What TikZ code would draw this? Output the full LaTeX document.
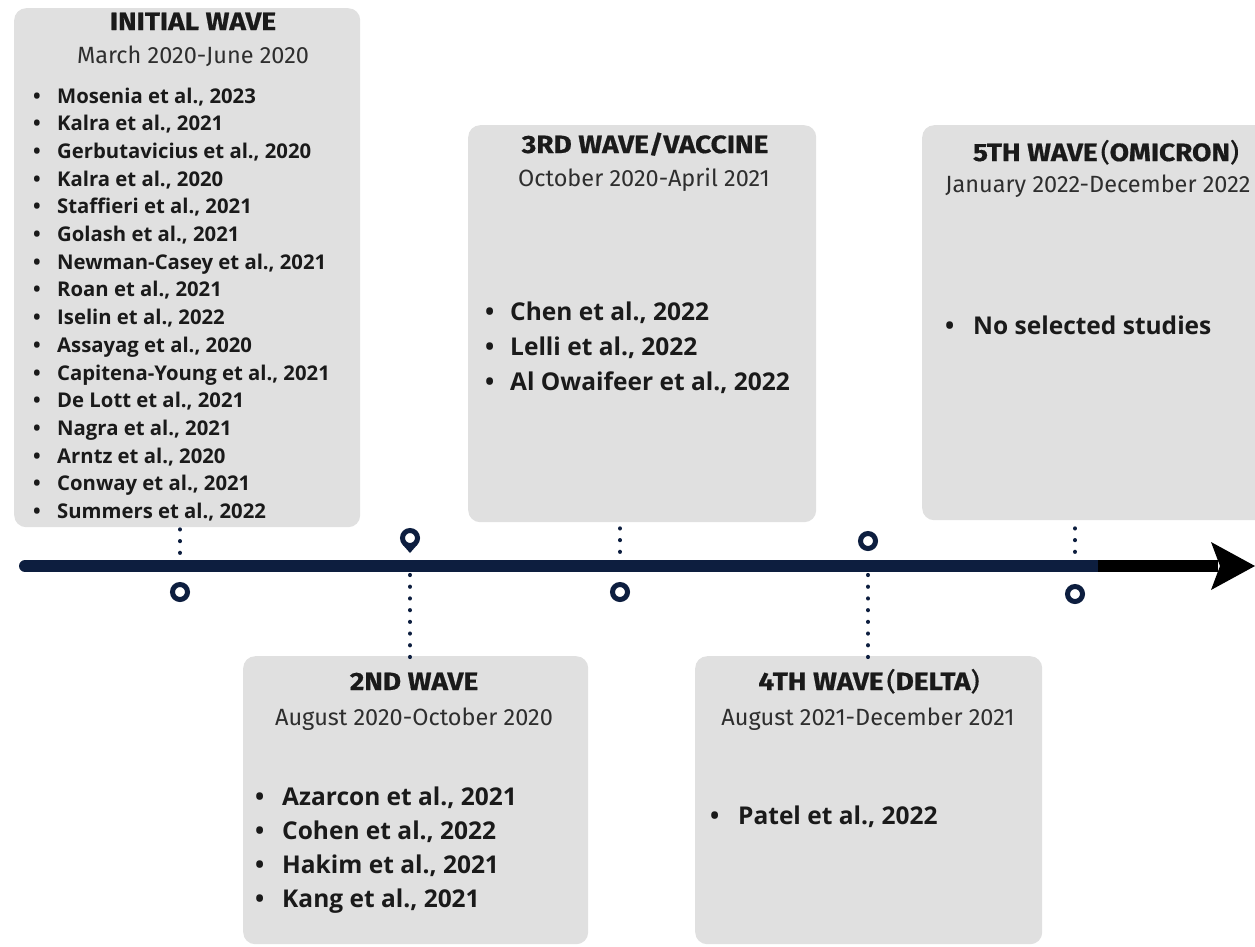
\documentclass[tikz,border=0pt]{standalone}
\usepackage{fontspec}
\setmainfont{Open Sans}
\newfontfamily\headfont[FakeStretch=1.12,FakeBold=0.6]{Fira Sans}
\newfontfamily\datefont{Fira Sans}
\usetikzlibrary{calc}
\definecolor{navy}{HTML}{0D1E3F}
\definecolor{boxgray}{HTML}{E0E0E0}
\definecolor{ink}{HTML}{1A1A1A}
\definecolor{dateink}{HTML}{2E2E2E}
\begin{document}
\begin{tikzpicture}[x=1pt,y=-1pt,
  wavebox/.style={fill=boxgray, draw=none, rounded corners=12pt, rectangle, inner sep=0, anchor=north west},
  headtxt/.style={font=\headfont\bfseries\fontsize{25}{29}\selectfont, text=ink, inner sep=0, anchor=base},
  datetxt/.style={font=\datefont\fontsize{23.5}{27}\selectfont, text=dateink, inner sep=0, anchor=base},
  smallitem/.style={font=\bfseries\fontsize{20.3}{24}\selectfont, text=ink, inner sep=0, anchor=base west},
  bigitem/.style={font=\bfseries\fontsize{24.5}{28}\selectfont, text=ink, inner sep=0, anchor=base west},
  ring/.style={circle, draw=navy, line width=5pt, minimum size=15pt, inner sep=0},
  dotline/.style={navy, line width=4.2pt, line cap=round, dash pattern=on 0.01pt off 11.7pt},
]
\clip (0,0) rectangle (1255,946);
\fill[white] (0,0) rectangle (1255,946);

% boxes
\node[wavebox, minimum width=346pt, minimum height=519pt] (b1) at (14,8) {};
\node[wavebox, minimum width=348pt, minimum height=397pt] (b3) at (468,125) {};
\node[wavebox, minimum width=360pt, minimum height=395pt] (b5) at (922,125) {};
\node[wavebox, minimum width=345pt, minimum height=288pt] (b2) at (243,656) {};
\node[wavebox, minimum width=347pt, minimum height=288pt] (b4) at (695,656) {};

% headings
\node[headtxt] (h1) at (193,30) {INITIAL WAVE};
\node[datetxt] (d1) at (193,63) {March 2020-June 2020};
\node[headtxt] (h3) at (645,153) {3RD WAVE/VACCINE};
\node[datetxt] (d3) at (644,186) {October 2020-April 2021};
\node[headtxt] (h5) at (1106,161) {5TH WAVE\hspace{3pt}{\mdseries(}OMICRON{\mdseries)}};
\node[datetxt] (d5) at (1098,192) {January 2022-December 2022};
\node[headtxt] (h2) at (414,690) {2ND WAVE};
\node[datetxt] (d2) at (414,725) {August 2020-October 2020};
\node[headtxt] (h4) at (869,690) {4TH WAVE\hspace{3pt}{\mdseries(}DELTA{\mdseries)}};
\node[datetxt] (d4) at (868,725) {August 2021-December 2021};

% lists
\foreach \t [count=\i] in {{Mosenia et al., 2023},{Kalra et al., 2021},{Gerbutavicius et al., 2020},{Kalra et al., 2020},{Staffieri et al., 2021},{Golash et al., 2021},{Newman-Casey et al., 2021},{Roan et al., 2021},{Iselin et al., 2022},{Assayag et al., 2020},{Capitena-Young et al., 2021},{De Lott et al., 2021},{Nagra et al., 2021},{Arntz et al., 2020},{Conway et al., 2021},{Summers et al., 2022}}
  \node[smallitem] (l1-\i) at (33,{103+27.7*(\i-1)}) {\makebox[24pt][l]{\textbullet}\t};
\foreach \t [count=\i] in {{Chen et al., 2022},{Lelli et al., 2022},{Al Owaifeer et al., 2022}}
  \node[bigitem] (l3-\i) at (485,{320+35*(\i-1)}) {\makebox[25pt][l]{\textbullet}\t};
\node[bigitem] (l5-1) at (945,334) {\makebox[28pt][l]{\textbullet}No selected studies};
\foreach \t [count=\i] in {{Azarcon et al., 2021},{Cohen et al., 2022},{Hakim et al., 2021},{Kang et al., 2021}}
  \node[bigitem] (l2-\i) at (255,{805+34*(\i-1)}) {\makebox[27pt][l]{\textbullet}\t};
\node[bigitem] (l4-1) at (710,824) {\makebox[28pt][l]{\textbullet}Patel et al., 2022};

% axis
\coordinate (axL) at (25,566);
\coordinate (axM) at (1098,566);
\coordinate (axA) at (1214,566);
\coordinate (axR) at (1255,566);
\draw[navy, line width=12pt, line cap=round] (axL) -- (axM);
\draw[black, line width=12pt] (axM) -- ([xshift=4pt]axA);
\fill[black] (1211,542) -- (axR) -- (1211,590) -- (1220,566) -- cycle;

% markers
\node[ring] (r1) at (180,592) {};
\node[ring] (r2) at (410,538) {};
\fill[navy] (403,545) -- (410,553) -- (417,545) -- cycle;
\node[ring] (r3) at (620,592) {};
\node[ring] (r4) at (868,541) {};
\node[ring] (r5) at (1075,594) {};

\coordinate (t1) at (180,566);
\coordinate (t2) at (410,566);
\coordinate (t3) at (620,566);
\coordinate (t4) at (868,566);
\coordinate (t5) at (1075,566);

% dotted connectors
\draw[dotline] ($(t1 |- b1.south)+(0,2)$) -- ($(t1)+(0,-12)$);
\draw[dotline] ($(t3 |- b3.south)+(0,6)$) -- ($(t3)+(0,-12)$);
\draw[dotline] ($(t5 |- b5.south)+(0,8)$) -- ($(t5)+(0,-12)$);
\draw[dotline] ($(t2)+(0,9)$) -- ($(t2 |- b2.north)+(0,1)$);
\draw[dotline] ($(t4)+(0,9)$) -- ($(t4 |- b4.north)+(0,1)$);
\end{tikzpicture}
\end{document}
